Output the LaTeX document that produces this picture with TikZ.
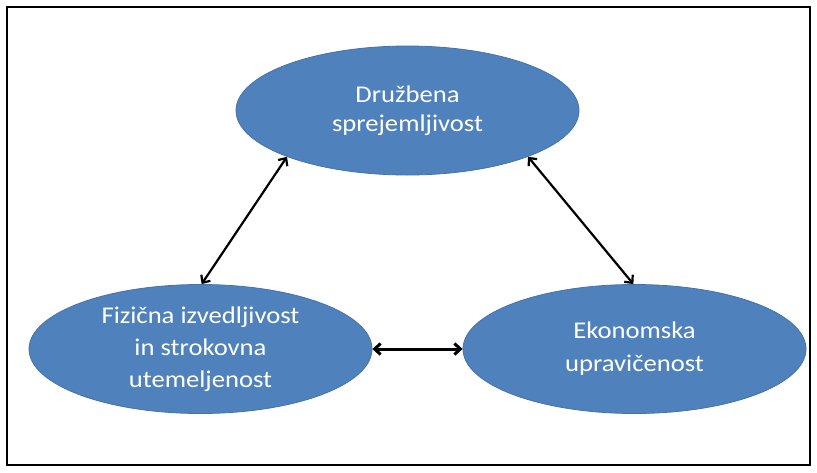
\documentclass[tikz,border=0pt]{standalone}
\usepackage{fontspec}
\setmainfont{Carlito}[FakeStretch=1.11]
\usetikzlibrary{shapes.geometric,arrows.meta}
\definecolor{ovalblue}{HTML}{4F81BD}
\definecolor{ovaledge}{HTML}{4572AA}
\begin{document}
\begin{tikzpicture}[x=1pt,y=-1pt,
  oval/.style={ellipse, fill=ovalblue, draw=ovaledge, line width=0.8pt, text=white,
    inner sep=0pt, minimum width=343pt, minimum height=129pt, align=center},
  link/.style={black, line width=2.2pt,
    {Straight Barb[length=6pt,width=11pt]}-{Straight Barb[length=6pt,width=11pt]}}]
\useasboundingbox (0,0) rectangle (817,472);
\draw[line width=2pt] (7,7) rectangle (810,465);
\node[oval, font=\fontsize{24}{29}\selectfont] (top) at (407.5,110.5) {Družbena\\sprejemljivost};
\node[oval, font=\fontsize{24}{32}\selectfont] (left) at (200.5,349) {Fizična izvedljivost\\in strokovna\\utemeljenost};
\node[oval, font=\fontsize{24}{33}\selectfont] (right) at (634.5,349) {Ekonomska\\upravičenost};
\draw[link] (top.201) -- (left.89);
\draw[link] (top.339) -- (right.91);
\draw[link, line width=3pt] (left.east) -- (right.west);
\end{tikzpicture}
\end{document}
